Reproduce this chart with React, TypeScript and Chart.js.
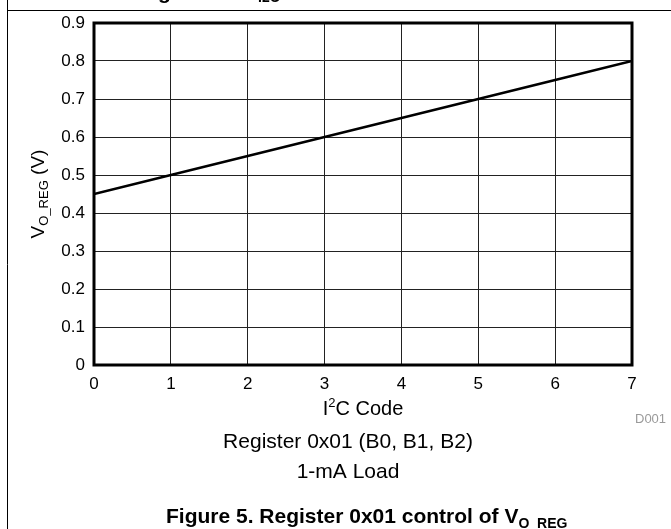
import React, { useEffect, useRef } from "react";
import { Chart, registerables } from "chart.js";

Chart.register(...registerables);

// ---- data ----
const codes = [0, 1, 2, 3, 4, 5, 6, 7];
const voltages = [0.45, 0.5, 0.55, 0.6, 0.65, 0.7, 0.75, 0.8];
const xTickValues = [0, 1, 2, 3, 4, 5, 6, 7];
const yTickValues = [0, 0.1, 0.2, 0.3, 0.4, 0.5, 0.6, 0.7, 0.8, 0.9];

// ---- text ----
const yTitleMain = "V";
const yTitleSub = "O_REG";
const yTitleUnit = " (V)";
const xTitleA = "I";
const xTitleSup = "2";
const xTitleB = "C Code";
const subtitle1 = "Register 0x01 (B0, B1, B2)";
const subtitle2 = "1-mA Load";
const captionMain = "Figure 5. Register 0x01 control of V";
const captionSub = "O_REG";
const sourceId = "D001";
const topFragA = "g";
const topFragB = "I2C";

const FAMILY = '"Liberation Sans", Arial, Helvetica, sans-serif';

type Run = { text: string; font: string; dy: number };

function drawRuns(ctx: CanvasRenderingContext2D, runs: Run[], x: number, y: number, align: "center" | "left") {
  ctx.save();
  ctx.textBaseline = "alphabetic";
  ctx.textAlign = "left";
  let total = 0;
  const widths = runs.map((r) => {
    ctx.font = r.font;
    const w = ctx.measureText(r.text).width;
    total += w;
    return w;
  });
  let cx = align === "center" ? x - total / 2 : x;
  runs.forEach((r, i) => {
    ctx.font = r.font;
    ctx.fillText(r.text, cx, y + r.dy);
    cx += widths[i];
  });
  ctx.restore();
}

const decor = {
  id: "decor",
  beforeDraw(chart: any) {
    const ctx: CanvasRenderingContext2D = chart.ctx;
    ctx.save();
    ctx.fillStyle = "#fff";
    ctx.fillRect(0, 0, chart.width, chart.height);
    ctx.strokeStyle = "#000";
    ctx.lineWidth = 1;
    ctx.beginPath();
    ctx.moveTo(7.5, 0);
    ctx.lineTo(7.5, chart.height);
    ctx.moveTo(7, 10.5);
    ctx.lineTo(chart.width, 10.5);
    ctx.stroke();
    // clipped fragments of the preceding heading
    ctx.fillStyle = "#000";
    ctx.font = `bold 21px ${FAMILY}`;
    ctx.fillText(topFragA, 158, -1);
    ctx.font = `bold 14px ${FAMILY}`;
    ctx.fillText(topFragB, 258, 2);
    ctx.restore();
  },
  afterDraw(chart: any) {
    const ctx: CanvasRenderingContext2D = chart.ctx;
    const a = chart.chartArea;
    ctx.save();
    ctx.strokeStyle = "#000";
    ctx.lineWidth = 3;
    ctx.strokeRect(a.left, a.top, a.right - a.left, a.bottom - a.top);

    ctx.fillStyle = "#000";
    // y title (rotated)
    ctx.save();
    ctx.translate(37, (a.top + a.bottom) / 2);
    ctx.rotate(-Math.PI / 2);
    drawRuns(
      ctx,
      [
        { text: yTitleMain, font: `19px ${FAMILY}`, dy: 0 },
        { text: yTitleSub, font: `13px ${FAMILY}`, dy: 4 },
        { text: yTitleUnit, font: `19px ${FAMILY}`, dy: 0 },
      ],
      0,
      7,
      "center"
    );
    ctx.restore();

    const cx = (a.left + a.right) / 2;
    // x title
    drawRuns(
      ctx,
      [
        { text: xTitleA, font: `20px ${FAMILY}`, dy: 0 },
        { text: xTitleSup, font: `13px ${FAMILY}`, dy: -8 },
        { text: xTitleB, font: `20px ${FAMILY}`, dy: 0 },
      ],
      cx,
      415,
      "center"
    );

    // source id
    ctx.save();
    ctx.fillStyle = "#9a9a9a";
    ctx.font = `13px ${FAMILY}`;
    ctx.textAlign = "left";
    ctx.fillText(sourceId, 635, 423);
    ctx.restore();

    // subtitles
    drawRuns(ctx, [{ text: subtitle1, font: `21px ${FAMILY}`, dy: 0 }], 348, 448, "center");
    drawRuns(ctx, [{ text: subtitle2, font: `21px ${FAMILY}`, dy: 0 }], 348, 478, "center");

    // figure caption
    drawRuns(
      ctx,
      [
        { text: captionMain, font: `bold 21px ${FAMILY}`, dy: 0 },
        { text: captionSub, font: `bold 14px ${FAMILY}`, dy: 5 },
      ],
      166,
      523,
      "left"
    );
    ctx.restore();
  },
};

export default function App() {
  const ref = useRef<HTMLCanvasElement | null>(null);

  useEffect(() => {
    if (!ref.current) return;
    Chart.defaults.font.family = FAMILY;
    const chart = new Chart(ref.current, {
      type: "line",
      data: {
        datasets: [
          {
            data: codes.map((c, i) => ({ x: c, y: voltages[i] })),
            borderColor: "#000",
            borderWidth: 2.5,
            pointRadius: 0,
            fill: false,
            tension: 0,
          },
        ],
      },
      options: {
        responsive: false,
        animation: false,
        devicePixelRatio: 1,
        layout: { padding: { left: 0, top: 23, right: 39, bottom: 0 } },
        plugins: {
          legend: { display: false },
          tooltip: { enabled: false },
          title: { display: false },
        },
        scales: {
          x: {
            type: "linear",
            min: 0,
            max: 7,
            afterBuildTicks: (s: any) => {
              s.ticks = xTickValues.map((v) => ({ value: v }));
            },
            afterFit: (s: any) => {
              s.height = 164;
            },
            ticks: {
              color: "#000",
              font: { size: 17 },
              padding: 9,
              maxRotation: 0,
              autoSkip: false,
              callback: (v: any) => String(v),
            },
            grid: { color: "#222", lineWidth: 1, drawTicks: false },
            border: { display: false },
          },
          y: {
            type: "linear",
            min: 0,
            max: 0.9,
            afterBuildTicks: (s: any) => {
              s.ticks = yTickValues.map((v) => ({ value: v }));
            },
            afterFit: (s: any) => {
              s.width = 94;
            },
            ticks: {
              color: "#000",
              font: { size: 17 },
              padding: 9,
              autoSkip: false,
              callback: (v: any) => (Number(v) === 0 ? "0" : Number(v).toFixed(1)),
            },
            grid: { color: "#222", lineWidth: 1, drawTicks: false },
            border: { display: false },
          },
        },
      },
      plugins: [decor],
    });
    return () => chart.destroy();
  }, []);

  return (
    <div style={{ position: "absolute", left: 0, top: 0, width: 671, height: 529, background: "#fff" }}>
      <canvas ref={ref} width={671} height={529} style={{ display: "block", width: 671, height: 529 }} />
    </div>
  );
}
